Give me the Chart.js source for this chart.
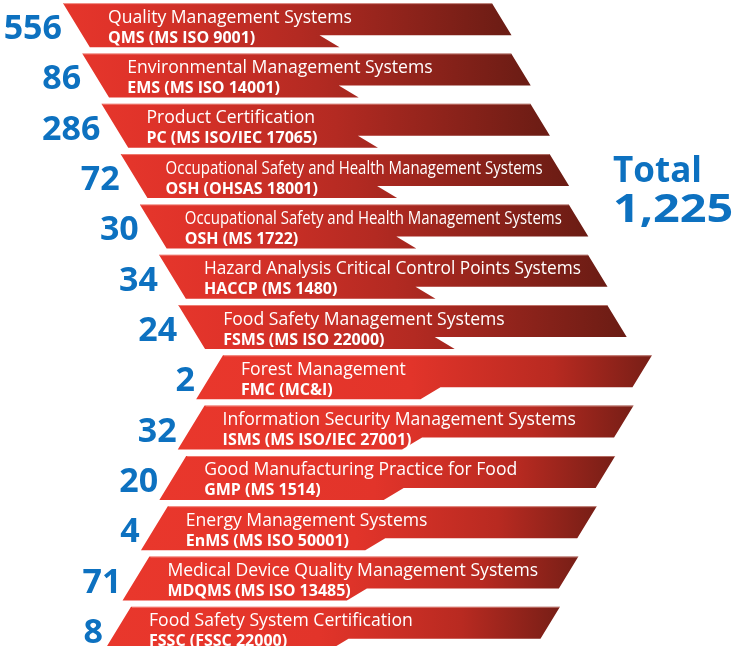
<!DOCTYPE html>
<html>
<head>
<meta charset="utf-8">
<script src="https://cdn.jsdelivr.net/npm/chart.js@4"></script>
<style>
  html, body { margin: 0; padding: 0; background: #fff; overflow: hidden; }
  #wrap { width: 740px; height: 654px; position: relative; }
</style>
</head>
<body>
<div id="wrap"><canvas id="chart"></canvas></div>
<script>
// certification schemes, top to bottom
const names = [
    'Quality Management Systems',
    'Environmental Management Systems',
    'Product Certification',
    'Occupational Safety and Health Management Systems',
    'Occupational Safety and Health Management Systems',
    'Hazard Analysis Critical Control Points Systems',
    'Food Safety Management Systems',
    'Forest Management',
    'Information Security Management Systems',
    'Good Manufacturing Practice for Food',
    'Energy Management Systems',
    'Medical Device Quality Management Systems',
    'Food Safety System Certification'
];
const codes = [
    'QMS (MS ISO 9001)',
    'EMS (MS ISO 14001)',
    'PC (MS ISO/IEC 17065)',
    'OSH (OHSAS 18001)',
    'OSH (MS 1722)',
    'HACCP (MS 1480)',
    'FSMS (MS ISO 22000)',
    'FMC (MC&I)',
    'ISMS (MS ISO/IEC 27001)',
    'GMP (MS 1514)',
    'EnMS (MS ISO 50001)',
    'MDQMS (MS ISO 13485)',
    'FSSC (FSSC 22000)'
];
const counts = [556, 86, 286, 72, 30, 34, 24, 2, 32, 20, 4, 71, 8];

const total = counts.reduce((a, b) => a + b, 0);

// banner layout: first 7 rows step right, the rest step back left
const BANNER_W = 429;
const SLANT = 0.61;
function leftOf(i) {
    return i < 7 ? 63 + 19.2 * i : 223 - 18.4 * (i - 7);
}
const ranges = counts.map((_, i) => [leftOf(i), leftOf(i) + BANNER_W]);

const bannerPlugin = {
    id: 'banners',
    afterDatasetsDraw(chart) {
        const ctx = chart.ctx;
        const meta = chart.getDatasetMeta(0);
        meta.data.forEach((el, i) => {
            const L = el.base;
            const R = el.x;
            const T = el.y - el.height / 2;
            const down = i < 7;
            const k = down ? SLANT : -SLANT;
            const s = down ? 1 : -1;
            const tabX = L + 237 + k * 32;

            ctx.save();
            ctx.beginPath();
            ctx.moveTo(L, T);
            ctx.lineTo(R, T);
            ctx.lineTo(R + k * 32, T + 32);
            ctx.lineTo(tabX, T + 32);
            ctx.lineTo(tabX + s * 20, T + 44);
            ctx.lineTo(L + k * 44, T + 44);
            ctx.closePath();
            const g = ctx.createLinearGradient(L - 26, 0, R + 20, 0);
            if (down) {
                g.addColorStop(0, '#e8372c');
                g.addColorStop(0.15, '#e0332a');
                g.addColorStop(0.55, '#b32a22');
                g.addColorStop(1, '#6a1c14');
            } else {
                g.addColorStop(0, '#e9372c');
                g.addColorStop(0.45, '#e2342a');
                g.addColorStop(0.75, '#b82a21');
                g.addColorStop(1, '#6a1c14');
            }
            ctx.fillStyle = g;
            ctx.fill();

            // faint light edge on top
            ctx.beginPath();
            ctx.moveTo(L + 1, T + 0.5);
            ctx.lineTo(R, T + 0.5);
            ctx.strokeStyle = 'rgba(255,210,200,0.45)';
            ctx.lineWidth = 1;
            ctx.stroke();

            // texts
            const tx = down ? L + 45 : L + 18;
            ctx.fillStyle = '#ffffff';
            ctx.textAlign = 'left';
            ctx.textBaseline = 'alphabetic';
            ctx.font = '400 17.6px "Open Sans"';
            ctx.fillText(names[i], tx, T + 19.5, 377);
            ctx.font = '700 16px "Open Sans"';
            ctx.fillText(codes[i], tx, T + 39.5);

            // count
            ctx.fillStyle = '#0d71c0';
            ctx.textAlign = 'right';
            ctx.font = '700 34px "Open Sans"';
            ctx.fillText(String(counts[i]), down ? L - 1 : L - 28, T + 36);
            ctx.restore();
        });

        ctx.save();
        ctx.fillStyle = '#0d71c0';
        ctx.textAlign = 'left';
        ctx.font = '700 35px "Open Sans"';
        ctx.fillText('Total', 613, 182);
        ctx.translate(613, 222);
        ctx.scale(1.17, 1);
        ctx.font = '700 40px "Open Sans"';
        ctx.fillText(total.toLocaleString('en-US'), 0, 0);
        ctx.restore();
    }
};

new Chart(document.getElementById('chart'), {
    type: 'bar',
    data: {
        labels: codes,
        datasets: [{
            data: ranges,
            backgroundColor: 'rgba(0,0,0,0)',
            borderWidth: 0,
            barThickness: 44
        }]
    },
    options: {
        indexAxis: 'y',
        responsive: true,
        maintainAspectRatio: false,
        animation: false,
        layout: { padding: 0 },
        plugins: {
            legend: { display: false },
            tooltip: { enabled: false }
        },
        scales: {
            x: { type: 'linear', min: 0, max: 740, display: false },
            y: { display: false, offset: true }
        }
    },
    plugins: [bannerPlugin]
});
</script>
</body>
</html>
